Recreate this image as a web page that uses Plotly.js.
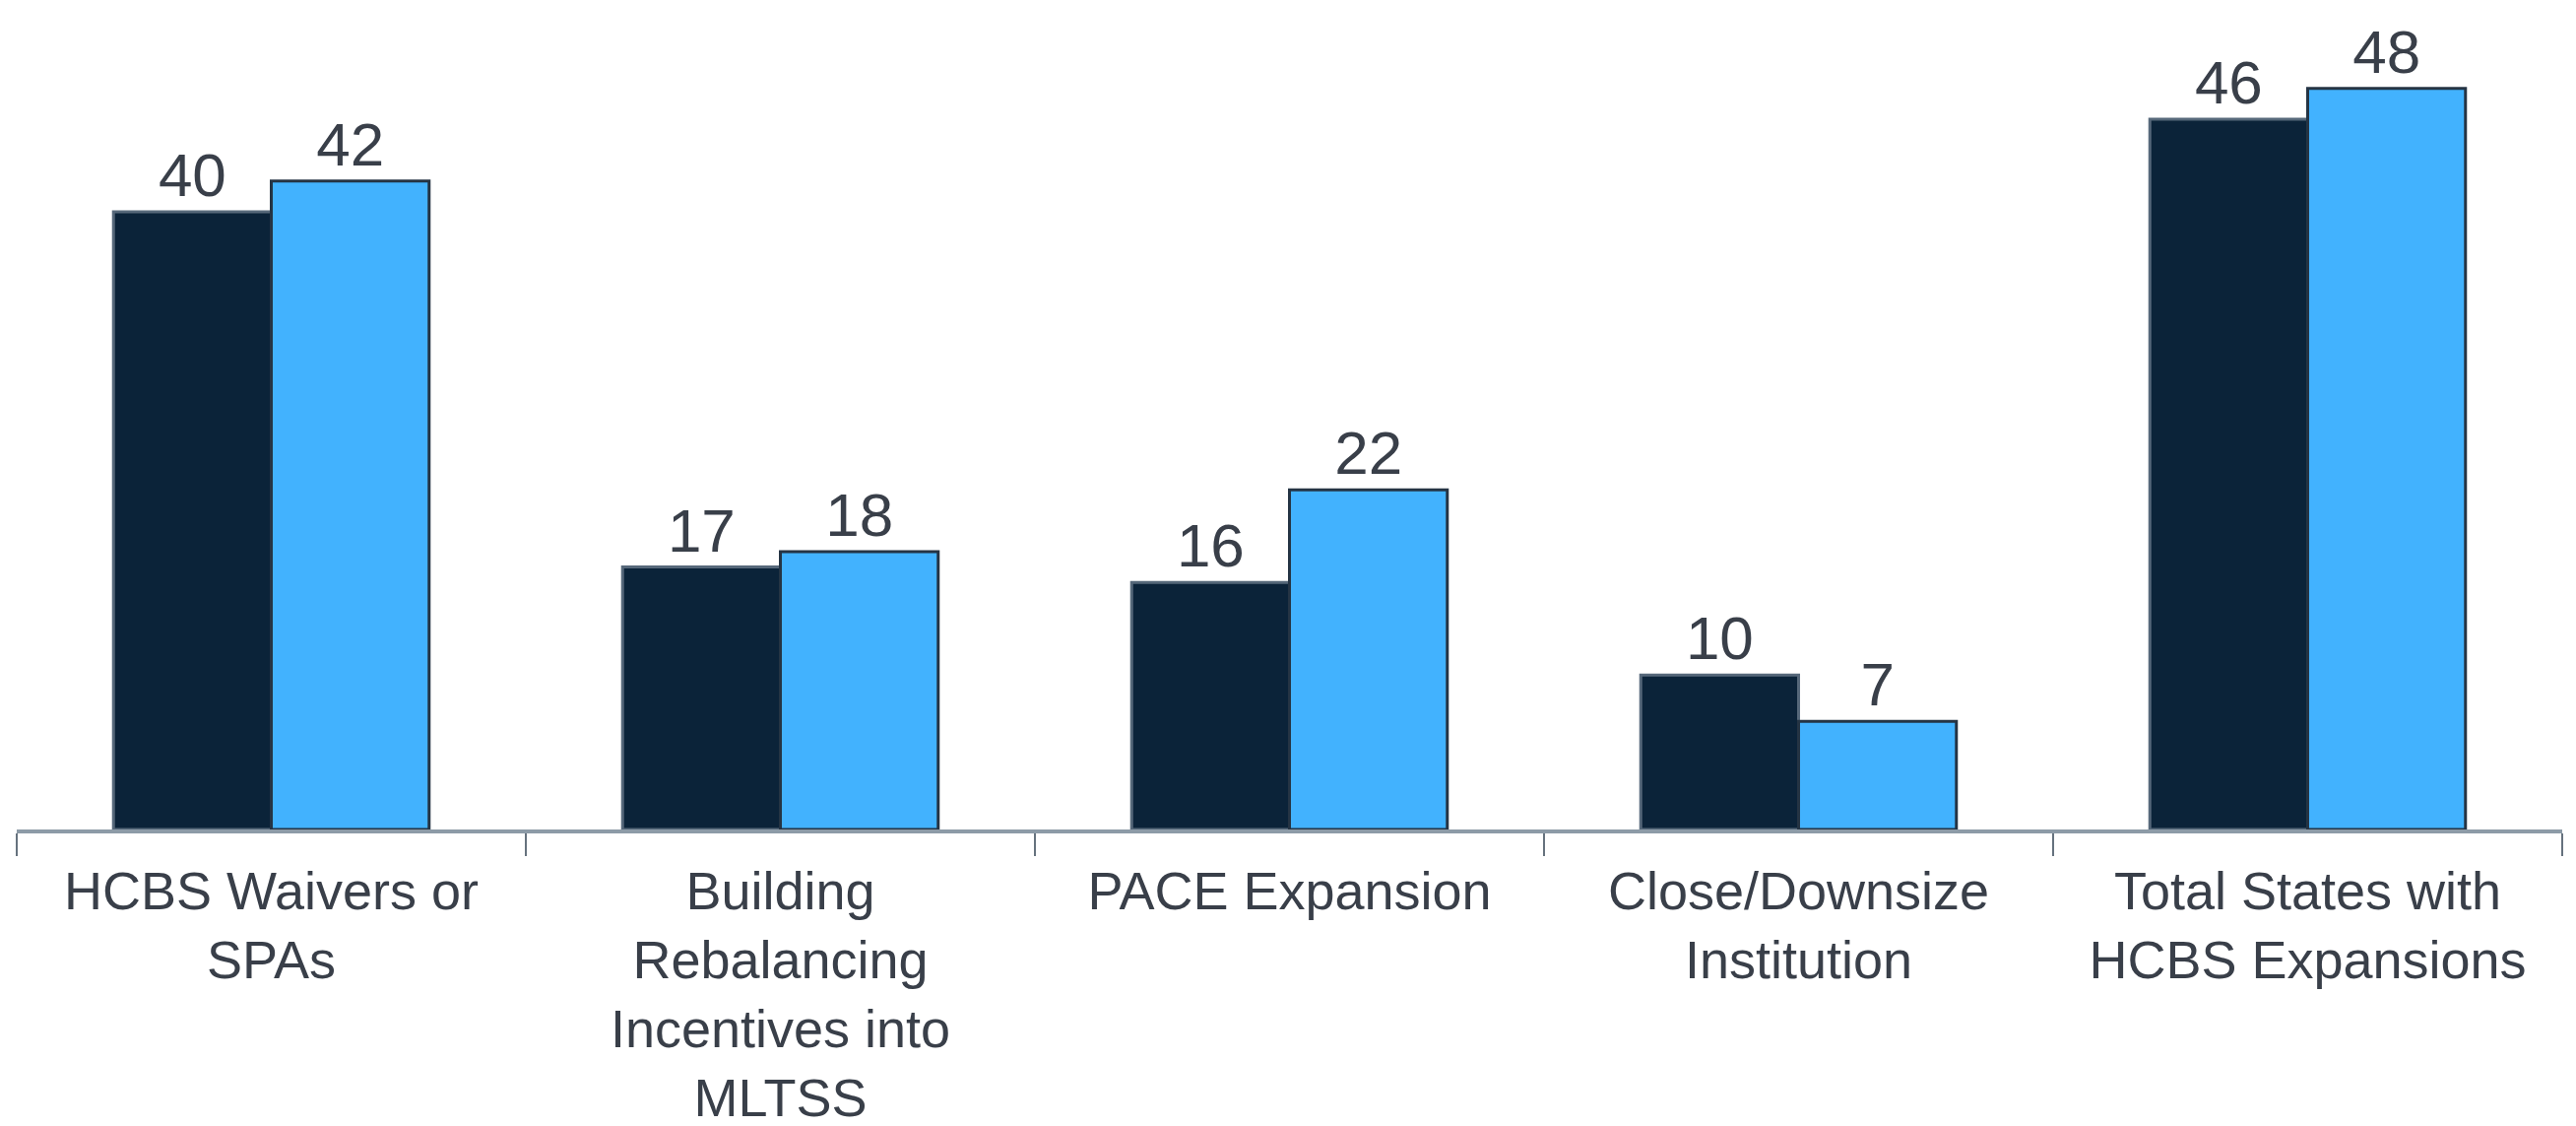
<!DOCTYPE html>
<html>
<head>
<meta charset="utf-8">
<script src="https://cdn.plot.ly/plotly-3.0.1.min.js"></script>
<style>
  html, body { margin: 0; padding: 0; background: #ffffff; }
  #chart { width: 2616px; height: 1143px; }
</style>
</head>
<body>
<div id="chart"></div>
<script>
const categories = [
  "HCBS Waivers or<br>SPAs",
  "Building<br>Rebalancing<br>Incentives into<br>MLTSS",
  "PACE Expansion",
  "Close/Downsize<br>Institution",
  "Total States with<br>HCBS Expansions"
];
const seriesNames = ["Earlier year", "Later year"];
const seriesA = [40, 17, 16, 10, 46];
const seriesB = [42, 18, 22, 7, 48];

const labelFont = { family: "Liberation Sans, Arial, sans-serif", size: 62, color: "#393f49" };

const traces = [
  {
    type: "bar", name: seriesNames[0], x: categories, y: seriesA,
    text: seriesA.map(String), textposition: "outside", cliponaxis: false,
    textfont: labelFont,
    marker: { color: "#0b2339", line: { color: "#56687a", width: 3 } },
    hoverinfo: "x+y"
  },
  {
    type: "bar", name: seriesNames[1], x: categories, y: seriesB,
    text: seriesB.map(String), textposition: "outside", cliponaxis: false,
    textfont: labelFont,
    marker: { color: "#42b2fe", line: { color: "#253444", width: 3 } },
    hoverinfo: "x+y"
  }
];

const layout = {
  width: 2616, height: 1143,
  margin: { l: 17, r: 14, t: 27, b: 301 },
  paper_bgcolor: "#ffffff", plot_bgcolor: "#ffffff",
  showlegend: false,
  barmode: "group", bargap: 0.38, bargroupgap: 0,
  font: { family: "Liberation Sans, Arial, sans-serif", color: "#393f49" },
  xaxis: {
    type: "category",
    showline: true, linecolor: "#8d9ba7", linewidth: 4,
    ticks: "outside", tickson: "boundaries", ticklen: 23, tickwidth: 2, tickcolor: "#66727e",
    ticklabelstandoff: 12,
    tickfont: { family: "Liberation Sans, Arial, sans-serif", size: 54, color: "#393f49" },
    showgrid: false, zeroline: false, automargin: false
  },
  yaxis: {
    range: [0, 52], visible: false, showgrid: false, zeroline: false, fixedrange: true
  }
};

Plotly.newPlot("chart", traces, layout, { staticPlot: true, displayModeBar: false });
</script>
</body>
</html>
